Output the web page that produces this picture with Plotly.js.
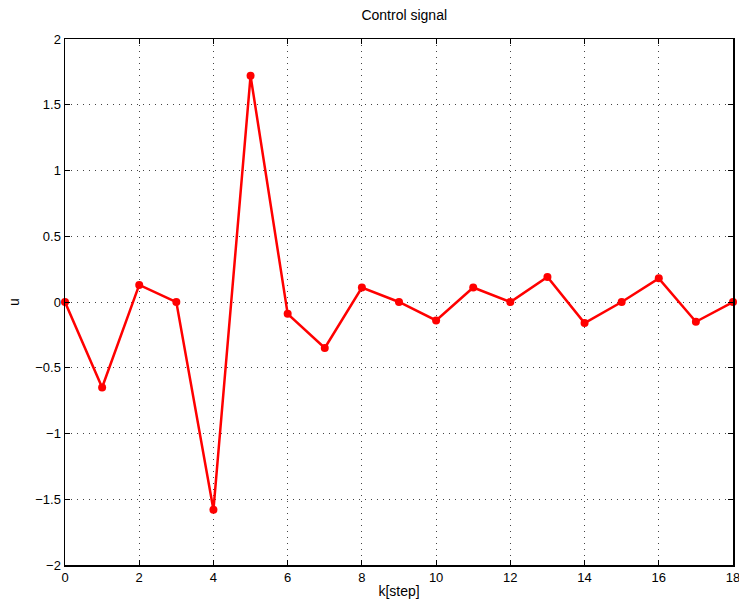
<!DOCTYPE html>
<html><head><meta charset="utf-8">
<script src="https://cdn.plot.ly/plotly-3.0.1.min.js"></script>
<style>body{margin:0;background:#fff}#c{width:739px;height:605px}</style>
</head><body><div id="c"></div>
<script>
const k = [0,1,2,3,4,5,6,7,8,9,10,11,12,13,14,15,16,17,18];
const u = [0,-0.65,0.13,0,-1.58,1.72,-0.09,-0.35,0.11,0,-0.14,0.11,0,0.19,-0.16,0,0.18,-0.15,0];
const xTicks = [0,2,4,6,8,10,12,14,16,18];
const yTicks = [-2,-1.5,-1,-0.5,0,0.5,1,1.5,2];
const yTickText = ['\u22122','\u22121.5','\u22121','\u22120.5','0','0.5','1','1.5','2'];

const axisCommon = {
  showline:true, linecolor:'#000', linewidth:1.5, mirror:'ticks',
  ticks:'inside', ticklen:5, tickcolor:'#000', tickwidth:1,
  showgrid:true, gridcolor:'#444', griddash:'1px,5px', gridwidth:1,
  zeroline:false, ticklabeloverflow:'allow',
  tickfont:{family:'Liberation Sans, Arial, sans-serif', size:13, color:'#000'}
};
Plotly.newPlot('c', [{
  x:k, y:u, type:'scatter', mode:'lines+markers',
  line:{color:'#ff0000', width:2.5}, marker:{color:'#ff0000', size:8},
  cliponaxis:false
}], {
  width:739, height:605,
  margin:{l:65, r:6, t:39, b:40},
  paper_bgcolor:'#fff', plot_bgcolor:'#fff',
  showlegend:false,
  title:{text:'Control signal', x:0.547, xanchor:'center', y:0.975, yanchor:'middle',
    font:{family:'Liberation Sans, Arial, sans-serif', size:14, color:'#000'}},
  xaxis:Object.assign({}, axisCommon, {range:[0,18], tickvals:xTicks, ticktext:xTicks.map(String),
    title:{text:'k[step]', standoff:2, font:{family:'Liberation Sans, Arial, sans-serif', size:14, color:'#000'}}}),
  yaxis:Object.assign({}, axisCommon, {range:[-2,2], tickvals:yTicks, ticktext:yTickText,
    title:{text:'u', standoff:12, font:{family:'Liberation Sans, Arial, sans-serif', size:14, color:'#000'}}})
}, {displayModeBar:false, staticPlot:true});
</script></body></html>
